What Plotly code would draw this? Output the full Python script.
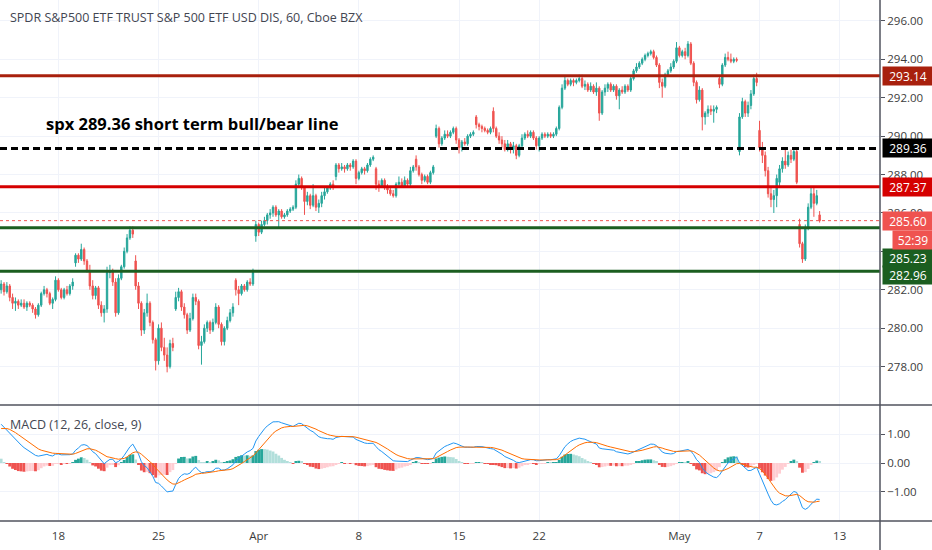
import numpy as np
import plotly.graph_objects as go

# hourly SPY bars (Mar 13 .. May 10 2019)
opens = [282.0, 282.3, 281.9, 282.2, 281.6, 281.3, 281.4, 281.2, 281.3, 281.1,
         281.3, 281.2, 281.0, 280.7, 281.2, 281.8, 282.0, 281.8, 281.3, 281.5,
         282.5, 282.0, 281.6, 282.0, 281.8, 282.2, 283.4, 283.8, 283.6, 284.1,
         283.5, 283.0, 282.2, 281.7, 282.1, 281.2, 280.8, 281.0, 282.9, 283.0,
         282.4, 280.8, 282.6, 283.2, 284.0, 284.7, 285.1, 283.5, 282.2, 281.3,
         279.9, 280.8, 281.3, 280.3, 279.4, 278.3, 280.0, 279.0, 278.6, 278.0,
         279.2, 281.0, 281.6, 281.9, 281.1, 280.7, 279.9, 280.5, 281.6, 281.4,
         279.1, 279.3, 280.0, 280.3, 279.9, 280.3, 281.1, 280.2, 279.3, 280.0,
         280.4, 280.8, 282.5, 282.0, 281.8, 282.2, 282.0, 282.4, 282.3, 284.8,
         285.4, 285.0, 285.4, 285.6, 285.9, 286.0, 286.3, 285.9, 286.1, 285.8,
         285.9, 286.1, 286.2, 286.3, 287.5, 287.8, 287.3, 286.6, 286.9, 286.4,
         286.9, 286.3, 286.5, 286.9, 287.1, 287.3, 287.5, 287.9, 288.5, 288.3,
         288.4, 288.3, 288.5, 288.4, 288.7, 287.8, 288.1, 288.3, 288.2, 288.5,
         288.8, 288.3, 287.5, 287.4, 287.7, 287.3, 287.2, 287.0, 286.9, 287.5,
         287.6, 287.4, 287.7, 287.5, 288.2, 288.8, 288.4, 288.0, 287.7, 287.9,
         287.6, 288.1, 290.0, 290.4, 289.6, 289.9, 290.1, 290.0, 290.2, 290.4,
         289.8, 289.4, 289.7, 289.6, 290.0, 290.1, 291.0, 290.6, 290.5, 290.4,
         290.3, 290.2, 291.3, 290.4, 290.0, 289.8, 289.6, 289.3, 289.6, 289.3,
         289.5, 289.0, 289.5, 289.9, 290.1, 290.0, 290.2, 289.9, 289.5, 289.9,
         290.1, 290.0, 290.1, 290.0, 290.1, 290.4, 291.5, 292.5, 292.9, 292.7,
         292.9, 292.8, 292.9, 293.0, 292.6, 292.7, 292.4, 292.6, 292.3, 292.5,
         291.2, 292.3, 292.5, 292.7, 292.4, 292.6, 292.1, 292.4, 292.3, 292.6,
         292.4, 293.0, 293.4, 293.6, 293.8, 294.0, 294.2, 294.3, 294.4, 294.1,
         293.7, 292.8, 292.6, 293.2, 293.4, 293.6, 293.9, 294.6, 294.2, 294.4,
         294.2, 294.8, 293.8, 292.8, 291.9, 292.4, 291.0, 291.2, 291.4, 291.3,
         291.4, 293.0, 292.7, 293.7, 294.1, 294.0, 293.9, 294.0, 289.2, 291.0,
         291.8, 291.2, 291.6, 292.2, 293.0, 290.3, 289.4, 289.0, 288.2, 287.0,
         286.7, 286.9, 287.6, 288.3, 288.7, 288.5, 289.0, 288.8, 289.2, 285.4,
         284.4, 283.6, 285.2, 286.3, 287.0, 286.5, 285.9]
highs = [282.5, 282.4, 282.4, 282.3, 281.8, 281.6, 281.5, 281.5, 281.5, 281.4,
         281.4, 281.3, 281.1, 281.3, 281.9, 282.2, 282.1, 281.9, 281.6, 282.7,
         282.6, 282.1, 282.1, 282.2, 282.3, 282.6, 283.9, 283.9, 284.4, 284.2,
         283.6, 283.3, 282.5, 282.2, 282.2, 281.4, 281.2, 283.2, 283.3, 283.1,
         282.6, 282.8, 283.3, 284.2, 284.9, 285.3, 285.3, 283.8, 282.4, 281.4,
         281.0, 281.8, 281.4, 280.4, 279.5, 280.2, 280.3, 279.5, 279.0, 279.4,
         279.5, 281.9, 282.1, 282.0, 281.3, 280.8, 280.8, 281.8, 281.8, 281.5,
         279.6, 280.2, 280.4, 280.4, 280.5, 281.3, 281.2, 280.3, 280.1, 280.6,
         281.0, 281.3, 282.6, 282.2, 282.3, 282.3, 282.5, 282.6, 283.1, 285.6,
         285.5, 285.6, 285.8, 286.0, 286.2, 286.4, 286.4, 286.2, 286.2, 286.0,
         286.2, 286.3, 286.4, 287.7, 288.0, 287.9, 287.4, 287.1, 287.0, 287.5,
         287.0, 286.7, 287.1, 287.3, 287.4, 287.6, 287.7, 288.6, 288.6, 288.6,
         288.5, 288.6, 288.6, 288.8, 288.8, 288.2, 288.4, 288.4, 288.6, 288.9,
         289.0, 288.4, 287.7, 287.8, 287.8, 287.5, 287.4, 287.2, 287.6, 287.9,
         287.8, 287.9, 287.8, 288.4, 288.5, 289.0, 288.5, 288.1, 288.0, 288.0,
         288.2, 288.5, 290.6, 290.5, 290.0, 290.3, 290.3, 290.3, 290.5, 290.5,
         289.9, 289.8, 289.9, 290.1, 290.2, 290.3, 291.1, 290.7, 290.6, 290.5,
         290.4, 290.5, 291.5, 290.5, 290.2, 290.0, 289.8, 289.8, 289.7, 289.7,
         289.6, 289.6, 290.1, 290.2, 290.3, 290.3, 290.3, 290.0, 290.0, 290.2,
         290.2, 290.2, 290.2, 290.2, 290.5, 291.6, 292.7, 293.1, 293.0, 293.0,
         293.0, 293.0, 293.2, 293.2, 292.9, 292.8, 292.8, 292.7, 292.8, 292.6,
         292.4, 292.7, 292.8, 292.8, 292.7, 292.7, 292.5, 292.6, 292.7, 292.7,
         293.1, 293.5, 293.8, 293.9, 294.1, 294.3, 294.4, 294.5, 294.5, 294.2,
         293.8, 293.0, 293.3, 293.5, 293.8, 294.0, 294.9, 294.7, 294.5, 294.6,
         294.95, 294.9, 293.9, 292.9, 292.6, 292.5, 291.3, 291.6, 291.6, 291.6,
         291.6, 293.1, 293.8, 294.3, 294.4, 294.3, 294.1, 294.1, 291.2, 292.0,
         291.9, 291.8, 292.4, 293.2, 293.3, 290.8, 289.7, 289.2, 288.4, 287.3,
         287.2, 288.0, 288.5, 288.9, 289.4, 289.2, 289.3, 289.4, 289.4, 285.7,
         284.5, 285.4, 286.5, 287.3, 287.35, 287.2, 286.1]
lows = [281.8, 281.7, 281.8, 281.4, 281.0, 280.9, 281.0, 281.1, 281.0, 280.9,
        281.1, 280.8, 280.5, 280.6, 281.1, 281.7, 281.6, 281.2, 281.0, 281.4,
        281.9, 281.5, 281.5, 281.7, 281.7, 282.0, 283.2, 283.4, 283.5, 283.3,
        282.9, 282.0, 281.5, 281.5, 281.0, 280.6, 280.3, 280.8, 282.6, 282.2,
        280.6, 280.7, 282.5, 283.1, 283.9, 284.6, 284.7, 282.0, 281.0, 279.6,
        279.7, 280.6, 280.1, 279.2, 277.8, 278.1, 278.8, 278.3, 277.7, 277.9,
        278.8, 280.9, 281.4, 280.9, 280.5, 279.7, 279.8, 280.4, 281.2, 278.9,
        278.1, 279.2, 279.8, 279.7, 279.8, 280.2, 280.0, 279.1, 279.1, 279.9,
        280.3, 280.6, 281.7, 281.2, 281.7, 281.9, 281.9, 282.2, 282.2, 284.5,
        284.8, 284.9, 285.3, 285.4, 285.7, 285.8, 285.8, 285.2, 285.7, 285.7,
        285.8, 286.0, 286.1, 286.2, 287.4, 287.2, 285.9, 286.4, 286.2, 286.3,
        286.1, 286.0, 286.3, 286.7, 287.0, 287.2, 287.2, 287.7, 288.1, 288.2,
        288.1, 288.2, 288.2, 288.3, 287.5, 287.7, 288.0, 288.0, 288.1, 288.4,
        288.7, 287.2, 287.1, 287.3, 287.2, 287.0, 286.9, 286.8, 286.8, 287.4,
        287.3, 287.3, 287.4, 287.4, 288.1, 288.2, 287.9, 287.5, 287.6, 287.5,
        287.5, 288.0, 289.9, 289.4, 289.5, 289.8, 289.9, 289.9, 290.1, 289.6,
        289.1, 289.2, 289.5, 289.5, 289.9, 290.0, 290.4, 290.3, 290.2, 290.2,
        290.1, 290.1, 290.2, 289.9, 289.6, 289.4, 289.2, 289.2, 289.1, 289.1,
        288.8, 288.9, 289.4, 289.8, 289.9, 289.9, 289.8, 289.3, 289.2, 289.8,
        289.9, 289.9, 289.9, 289.9, 290.0, 290.3, 291.4, 292.4, 292.6, 292.6,
        292.6, 292.7, 292.8, 292.5, 292.4, 292.3, 292.3, 292.2, 292.1, 290.8,
        291.1, 292.1, 292.3, 292.3, 292.3, 291.9, 291.4, 292.2, 292.2, 292.3,
        292.3, 292.9, 293.3, 293.5, 293.7, 293.9, 294.1, 294.2, 294.0, 293.6,
        292.5, 292.0, 292.5, 293.1, 293.3, 293.5, 293.8, 294.1, 294.1, 294.0,
        294.1, 293.7, 292.6, 291.7, 291.8, 290.3, 290.6, 291.0, 291.1, 290.7,
        291.2, 292.5, 292.6, 293.6, 293.9, 293.8, 293.8, 293.85, 289.0, 290.9,
        291.0, 291.0, 291.4, 292.1, 292.6, 289.2, 288.6, 287.9, 286.8, 286.3,
        286.0, 286.3, 287.4, 288.1, 288.3, 288.4, 288.6, 288.7, 287.5, 284.2,
        283.4, 283.5, 285.1, 286.2, 285.8, 286.4, 285.5]
closes = [282.3, 281.9, 282.2, 281.6, 281.3, 281.4, 281.2, 281.3, 281.1, 281.3,
          281.2, 281.0, 280.7, 281.2, 281.8, 282.0, 281.8, 281.3, 281.5, 282.5,
          282.0, 281.6, 282.0, 281.8, 282.2, 282.4, 283.8, 283.6, 284.1, 283.5,
          283.0, 282.2, 281.7, 282.1, 281.2, 280.8, 281.0, 282.9, 283.0, 282.4,
          280.8, 282.6, 283.2, 284.0, 284.7, 285.1, 284.9, 282.2, 281.3, 279.9,
          280.8, 281.3, 280.3, 279.4, 278.3, 280.0, 279.0, 278.6, 278.0, 279.2,
          279.0, 281.6, 281.9, 281.1, 280.7, 279.9, 280.5, 281.6, 281.4, 279.1,
          279.3, 280.0, 280.3, 279.9, 280.3, 281.1, 280.2, 279.3, 280.0, 280.4,
          280.8, 281.1, 282.0, 281.8, 282.2, 282.0, 282.4, 282.3, 282.9, 285.4,
          285.0, 285.4, 285.6, 285.9, 286.0, 286.3, 285.9, 286.1, 285.8, 285.9,
          286.1, 286.2, 286.3, 287.5, 287.8, 287.3, 286.6, 286.9, 286.4, 286.9,
          286.3, 286.5, 286.9, 287.1, 287.3, 287.5, 287.4, 288.5, 288.3, 288.4,
          288.3, 288.5, 288.4, 288.7, 287.8, 288.1, 288.3, 288.2, 288.5, 288.8,
          288.9, 287.5, 287.4, 287.7, 287.3, 287.2, 287.0, 286.9, 287.5, 287.6,
          287.4, 287.7, 287.5, 288.2, 288.4, 288.4, 288.0, 287.7, 287.9, 287.6,
          288.1, 288.4, 290.4, 289.6, 289.9, 290.1, 290.0, 290.2, 290.4, 289.8,
          289.4, 289.7, 289.6, 290.0, 290.1, 290.2, 290.6, 290.5, 290.4, 290.3,
          290.2, 290.4, 290.4, 290.0, 289.8, 289.6, 289.3, 289.6, 289.3, 289.5,
          289.0, 289.5, 289.9, 290.1, 290.0, 290.2, 289.9, 289.5, 289.9, 290.1,
          290.0, 290.1, 290.0, 290.1, 290.4, 291.5, 292.5, 292.9, 292.7, 292.9,
          292.8, 292.9, 293.0, 292.6, 292.7, 292.4, 292.6, 292.3, 292.5, 291.2,
          292.3, 292.5, 292.7, 292.4, 292.6, 292.1, 292.4, 292.3, 292.6, 292.4,
          293.0, 293.4, 293.6, 293.8, 294.0, 294.2, 294.3, 294.4, 294.1, 293.7,
          292.8, 292.6, 293.2, 293.4, 293.6, 293.9, 294.6, 294.2, 294.4, 294.2,
          294.8, 293.8, 292.8, 291.9, 292.4, 291.0, 291.2, 291.4, 291.3, 291.4,
          291.5, 292.7, 293.7, 294.1, 294.0, 293.9, 294.0, 293.95, 291.0, 291.8,
          291.2, 291.6, 292.2, 293.0, 292.8, 289.4, 289.0, 288.2, 287.0, 286.7,
          286.9, 287.8, 288.3, 288.7, 288.5, 289.0, 288.8, 289.2, 287.6, 284.4,
          283.6, 285.2, 286.3, 287.0, 286.5, 286.9, 285.60]

# day labels on the time axis and the bar where each day opens
tick_labels = ["18", "25", "Apr", "8", "15", "22", "May", "7", "13"]
tick_bars = [20, 55, 90, 125, 160, 188, 237, 265, 293]

# price scale (284.00 sits under the level tags, as in the original)
price_ticks = [278, 280, 282, 284, 286, 288, 290, 292, 294, 296]
price_text = ["278.00", "280.00", "282.00", "", "286.00", "288.00", "290.00",
              "292.00", "294.00", "296.00"]

# drawn levels
lvl_values = [293.14, 289.36, 287.37, 285.23, 282.96]
lvl_colors = ["#a8200d", "#000000", "#d50000", "#1b5e20", "#1b5e20"]
last_price = 285.60
countdown = "52:39"

# MACD state at the left edge of the window
macd_start = 1.35
signal_start = 1.2

bars = np.arange(len(closes))
c = np.array(closes)

# MACD (12, 26, close, 9)
ema12 = np.zeros(len(c))
ema26 = np.zeros(len(c))
ema12[0] = c[0] - 0.3
ema26[0] = ema12[0] - macd_start
for i in range(1, len(c)):
    ema12[i] = ema12[i - 1] + 2 / 13 * (c[i] - ema12[i - 1])
    ema26[i] = ema26[i - 1] + 2 / 27 * (c[i] - ema26[i - 1])
macd = ema12 - ema26
signal = np.zeros(len(c))
signal[0] = signal_start
for i in range(1, len(c)):
    signal[i] = signal[i - 1] + 2 / 10 * (macd[i] - signal[i - 1])
hist = macd - signal
hist_colors = []
for i, h in enumerate(hist):
    prev = hist[i - 1] if i > 0 else h
    if h >= 0:
        hist_colors.append("#26a69a" if h > prev else "#b2dfdb")
    else:
        hist_colors.append("#ffcdd2" if h > prev else "#ef5350")

fig = go.Figure()
fig.add_trace(go.Candlestick(
    x=bars, open=opens, high=highs, low=lows, close=closes,
    increasing=dict(line=dict(color="#26a69a", width=1), fillcolor="#26a69a"),
    decreasing=dict(line=dict(color="#ef5350", width=1), fillcolor="#ef5350"),
    whiskerwidth=0, xaxis="x", yaxis="y", showlegend=False))
fig.add_trace(go.Bar(x=bars, y=hist, marker_color=hist_colors, marker_line_width=0,
                     width=1.0, xaxis="x2", yaxis="y2", showlegend=False))
fig.add_trace(go.Scatter(x=bars, y=macd, mode="lines", line=dict(color="#2196f3", width=1),
                         xaxis="x2", yaxis="y2", showlegend=False))
fig.add_trace(go.Scatter(x=bars, y=signal, mode="lines", line=dict(color="#ff6d00", width=1),
                         xaxis="x2", yaxis="y2", showlegend=False))

shapes = []
for v, col in zip(lvl_values, lvl_colors):
    shapes.append(dict(type="line", xref="x domain", yref="y", x0=0, x1=1, y0=v, y1=v,
                       line=dict(color=col, width=3, dash="7px,4px" if col == "#000000" else "solid")))
shapes.append(dict(type="line", xref="x domain", yref="y", x0=0, x1=1, y0=last_price, y1=last_price,
                   line=dict(color="#ef5350", width=1, dash="dot")))
# pane borders
for yp in [0.0, 116 / 521]:
    shapes.append(dict(type="line", xref="paper", yref="paper", x0=0, x1=932 / 880, y0=yp, y1=yp,
                       line=dict(color="#50535e", width=1.5)))
shapes.append(dict(type="line", xref="paper", yref="paper", x0=1, x1=1, y0=-29 / 521, y1=1,
                   line=dict(color="#50535e", width=1.5)))

ann = [
    dict(text="SPDR S&P500 ETF TRUST S&P 500 ETF USD DIS, 60, Cboe BZX", xref="paper", yref="paper",
         x=8 / 880, y=1 - 18 / 521, xanchor="left", yanchor="middle", showarrow=False,
         font=dict(size=12.5, color="#434651")),
    dict(text="<b>spx 289.36 short term bull/bear line</b>", xref="paper", yref="paper",
         x=44 / 880, y=1 - 124 / 521, xanchor="left", yanchor="middle", showarrow=False,
         font=dict(size=16.5, color="#000000")),
    dict(text="MACD (12, 26, close, 9)", xref="paper", yref="paper",
         x=8 / 880, y=1 - 424 / 521, xanchor="left", yanchor="middle", showarrow=False,
         font=dict(size=12.5, color="#434651")),
]
label_shift = {285.23: -30, 282.96: -4}
tags = [(v, col, "%.2f" % v, label_shift.get(v, 0)) for v, col in zip(lvl_values, lvl_colors)]
tags.append((last_price, "#ef5350", "%.2f" % last_price, 0))
tags.append((last_price, "#ef5350", countdown, -19))
for v, col, txt, sh in tags:
    short = txt == countdown
    ann.append(dict(text=txt, xref="paper", yref="y", x=1 + (12 / 880 if short else 2 / 880), y=v,
                    yshift=sh, xanchor="left", yanchor="middle", showarrow=False,
                    bgcolor=col, width=36 if short else 46, height=14, borderpad=2,
                    font=dict(size=12, color="#ffffff")))

grid = "#f0f3fa"
fig.update_layout(
    width=932, height=550, margin=dict(l=0, r=52, t=0, b=29),
    paper_bgcolor="#ffffff", plot_bgcolor="#ffffff",
    font=dict(family="Open Sans", size=11, color="#3c3c3c"),
    showlegend=False, shapes=shapes, annotations=ann,
    xaxis=dict(domain=[0, 1], anchor="y", range=[-0.4, 307.1], rangeslider=dict(visible=False),
               tickvals=tick_bars, showticklabels=False, showgrid=True, gridcolor=grid,
               zeroline=False, ticks=""),
    xaxis2=dict(domain=[0, 1], anchor="y2", matches="x", range=[-0.4, 307.1],
                tickvals=tick_bars, ticktext=tick_labels, showgrid=True, gridcolor=grid,
                zeroline=False, ticks="", ticklabelstandoff=6,
                tickfont=dict(size=11.5, color="#3c3c3c")),
    yaxis=dict(domain=[116 / 521, 1], side="right", range=[276, 297.09],
               tickvals=price_ticks, ticktext=price_text, showgrid=True,
               gridcolor=grid, zeroline=False, ticks="outside", ticklen=4,
               tickcolor="#50535e", tickfont=dict(size=11.5, color="#3c3c3c")),
    yaxis2=dict(domain=[0, 116 / 521], side="right", range=[-2.02, 2.02],
                tickvals=[-1, 0, 1], tickformat=".2f", showgrid=True, gridcolor=grid,
                zeroline=False, ticks="outside", ticklen=4, tickcolor="#50535e",
                tickfont=dict(size=11.5, color="#3c3c3c")),
)

fig.write_html("out.html", config={"displayModeBar": False},
               post_script="document.body.style.margin='0';")
